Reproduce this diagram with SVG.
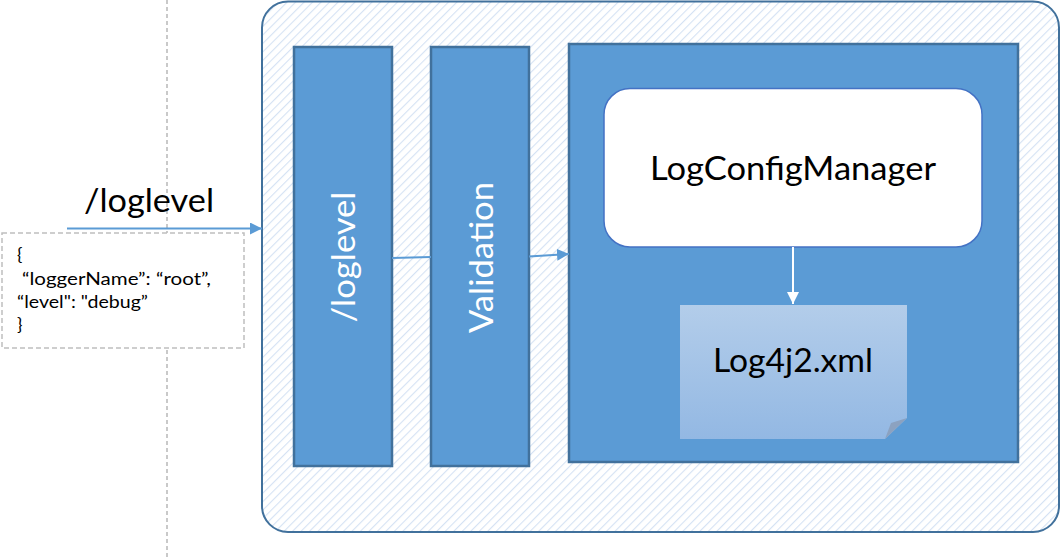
<svg xmlns="http://www.w3.org/2000/svg" width="1061" height="558" viewBox="0 0 1061 558">
  <defs>
    <pattern id="hatch" width="6" height="6" patternUnits="userSpaceOnUse" patternTransform="rotate(45)">
      <rect width="6" height="6" fill="#ffffff"/>
      <line x1="0" y1="0" x2="0" y2="6" stroke="#d5e2f4" stroke-width="2.2"/>
    </pattern>
    <linearGradient id="noteGrad" x1="0" y1="0" x2="0" y2="1">
      <stop offset="0" stop-color="#b3cdea"/>
      <stop offset="1" stop-color="#93b8e3"/>
    </linearGradient>
    <marker id="arrowBlue" viewBox="0 0 10 10" refX="10" refY="5" markerWidth="12" markerHeight="12" markerUnits="userSpaceOnUse" orient="auto">
      <path d="M0,0 L10,5 L0,10 Z" fill="#5b9bd5"/>
    </marker>
    <marker id="arrowWhite" viewBox="0 0 10 10" refX="10" refY="5" markerWidth="13" markerHeight="12" markerUnits="userSpaceOnUse" orient="auto">
      <path d="M0,0 L10,5 L0,10 Z" fill="#ffffff"/>
    </marker>
  </defs>
  <style>
    .lbl { font-family: Lato, "Open Sans", "Liberation Sans", sans-serif; font-size: 32px; fill: #000000; }
    .vlbl { font-family: Lato, "Open Sans", "Liberation Sans", sans-serif; font-size: 32px; fill: #ffffff; }
    .json { font-family: Lato, "Open Sans", "Liberation Sans", sans-serif; font-size: 18px; fill: #000000; }
    .block { fill: #5b9bd5; stroke: #41719c; stroke-width: 2.5; }
  </style>

  <rect width="1061" height="558" fill="#ffffff"/>

  <g id="boundary">
    <line x1="167" y1="0" x2="167" y2="558" stroke="#a6a6a6" stroke-width="1.2" stroke-dasharray="4,3"/>
  </g>

  <g id="container">
    <rect x="262" y="1.5" width="797" height="530.5" rx="26" ry="26" fill="url(#hatch)" stroke="#41719c" stroke-width="2"/>
  </g>

  <g id="request-label">
    <text class="lbl" x="84" y="212" textLength="130" lengthAdjust="spacingAndGlyphs">/loglevel</text>
  </g>

  <g id="payload">
    <rect x="2" y="233" width="242" height="115" fill="#ffffff" stroke="#bfbfbf" stroke-width="1.5" stroke-dasharray="5,3"/>
    <text class="json" x="17" y="261">{</text>
    <text class="json" x="22" y="285" textLength="189" lengthAdjust="spacingAndGlyphs">“loggerName”: “root”,</text>
    <text class="json" x="17" y="308" textLength="131" lengthAdjust="spacingAndGlyphs">“level": "debug”</text>
    <text class="json" x="17" y="331">}</text>
  </g>

  <g id="loglevel-block">
    <rect class="block" x="294" y="47" width="98" height="419"/>
    <text class="vlbl" text-anchor="middle" transform="translate(355,257) rotate(-90)" textLength="131" lengthAdjust="spacingAndGlyphs">/loglevel</text>
  </g>

  <g id="validation-block">
    <rect class="block" x="431" y="47" width="98" height="419"/>
    <text class="vlbl" text-anchor="middle" transform="translate(493,257.5) rotate(-90)" textLength="151" lengthAdjust="spacingAndGlyphs">Validation</text>
  </g>

  <g id="manager-block">
    <rect class="block" x="569" y="44" width="449" height="418"/>
  </g>

  <g id="log-config-manager">
    <rect x="604" y="88.5" width="378" height="158.5" rx="26" ry="26" fill="#ffffff" stroke="#4472c4" stroke-width="1.5"/>
    <text class="lbl" x="793" y="180" text-anchor="middle" textLength="286" lengthAdjust="spacingAndGlyphs">LogConfigManager</text>
  </g>

  <g id="log4j2-xml">
    <path d="M680,305 L907,305 L907,418 L885,439 L680,439 Z" fill="url(#noteGrad)"/>
    <path d="M885,439 L891,423 L907,418 Z" fill="#8ca2c0"/>
    <text class="lbl" x="793" y="372" text-anchor="middle" textLength="160" lengthAdjust="spacingAndGlyphs">Log4j2.xml</text>
  </g>

  <g id="connectors">
    <line x1="67" y1="228.5" x2="262" y2="228.5" stroke="#5b9bd5" stroke-width="1.8" marker-end="url(#arrowBlue)"/>
    <line x1="392" y1="258" x2="431" y2="257" stroke="#5b9bd5" stroke-width="2.2"/>
    <line x1="529" y1="256.5" x2="569" y2="254" stroke="#5b9bd5" stroke-width="2.2" marker-end="url(#arrowBlue)"/>
    <line x1="793" y1="247" x2="793" y2="304" stroke="#ffffff" stroke-width="2" marker-end="url(#arrowWhite)"/>
  </g>
</svg>
